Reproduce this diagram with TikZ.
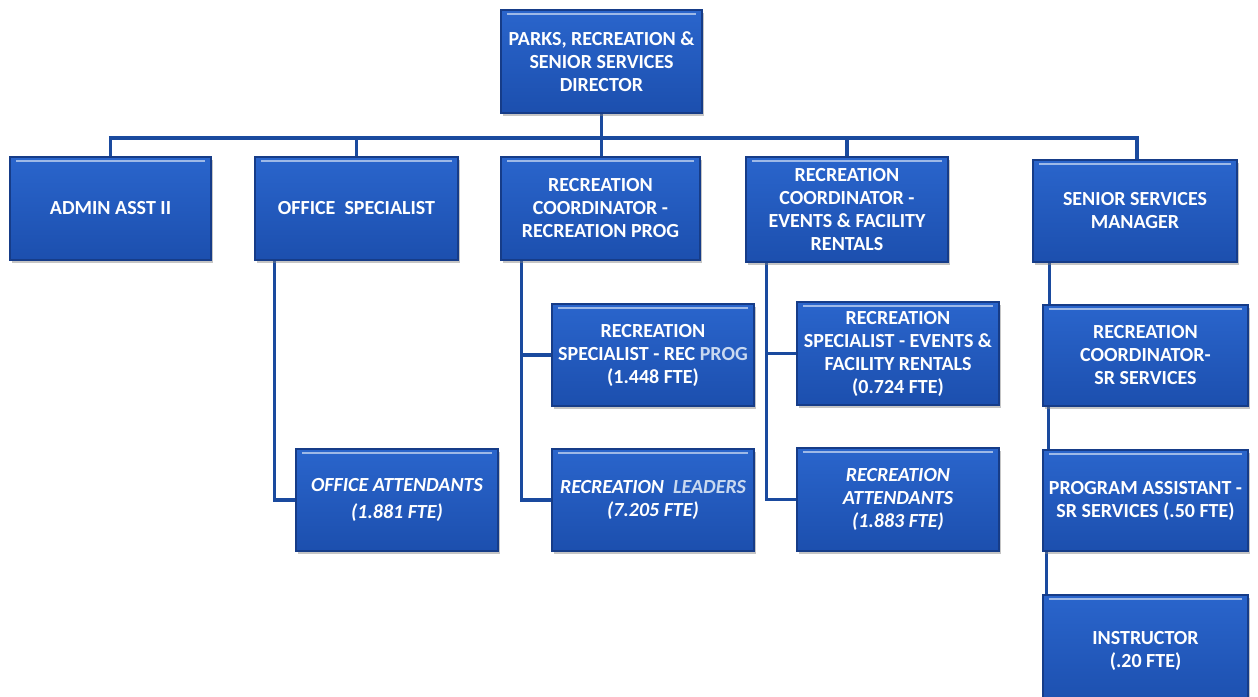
\documentclass[tikz,border=0pt]{standalone}
\usepackage{fontspec}
\setmainfont{Carlito}
\usetikzlibrary{shadows,backgrounds}
\definecolor{boxtop}{HTML}{2A65CC}
\definecolor{boxbot}{HTML}{1C4FAE}
\definecolor{boxedge}{HTML}{163C88}
\definecolor{linecol}{HTML}{1A4A9E}
\definecolor{hilite}{HTML}{C9D9F0}
\tikzset{
  orgbox/.style={rectangle, draw=boxedge, line width=1.5pt, top color=boxtop, bottom color=boxbot,
    text=white, font=\bfseries\fontsize{20}{23}\selectfont, align=center, inner sep=2pt,
    drop shadow={shadow xshift=1.5pt, shadow yshift=-2.5pt, fill=black!50, opacity=0.45},
    path picture={\draw[white, opacity=0.55, line width=1.3pt]
      ([xshift=6pt,yshift=-4pt]path picture bounding box.north west) --
      ([xshift=-6pt,yshift=-4pt]path picture bounding box.north east);}},
  conn/.style={draw=linecol, line width=3.5pt}
}
\begin{document}
\begin{tikzpicture}[x=1pt,y=-1pt]
\useasboundingbox (0,0) rectangle (1258,696);
\begin{scope}
\clip (0,0) rectangle (1258,696);
\node[orgbox, minimum width=201pt, minimum height=103pt] (dir) at (601.5,61.5) {PARKS, RECREATION \&\\SENIOR SERVICES\\DIRECTOR};
\node[orgbox, minimum width=201pt, minimum height=103pt] (admin) at (110.5,208.5) {ADMIN ASST II};
\node[orgbox, minimum width=203pt, minimum height=103pt] (office) at (356.5,208.5) {OFFICE\ \ SPECIALIST};
\node[orgbox, minimum width=199pt, minimum height=103pt] (rcp) at (600.5,208.5) {RECREATION\\COORDINATOR -\\RECREATION PROG};
\node[orgbox, minimum width=202pt, minimum height=105pt] (rce) at (847,209.5) {RECREATION\\COORDINATOR -\\EVENTS \& FACILITY\\RENTALS};
\node[orgbox, minimum width=204pt, minimum height=102pt] (ssm) at (1135,211) {SENIOR SERVICES\\MANAGER};
\node[orgbox, minimum width=202pt, minimum height=102pt] (rsp) at (653,355) {RECREATION\\SPECIALIST - REC \textcolor{hilite}{PROG}\\(1.448 FTE)};
\node[orgbox, minimum width=202pt, minimum height=103pt] (rse) at (898,353.5) {RECREATION\\SPECIALIST - EVENTS \&\\FACILITY RENTALS\\(0.724 FTE)};
\node[orgbox, minimum width=202pt, minimum height=102pt] (oa) at (397,500) {\itshape OFFICE ATTENDANTS\\[4pt]\itshape (1.881 FTE)};
\node[orgbox, minimum width=202pt, minimum height=102pt] (rl) at (653,500) {\itshape RECREATION\ \ \textcolor{hilite}{LEADERS}\\\itshape (7.205 FTE)};
\node[orgbox, minimum width=202pt, minimum height=103pt] (ra) at (898,499.5) {\itshape RECREATION\\\itshape ATTENDANTS\\\itshape (1.883 FTE)};
\node[orgbox, minimum width=205pt, minimum height=101pt] (rcs) at (1145.5,355.5) {RECREATION\\COORDINATOR-\\SR SERVICES};
\node[orgbox, minimum width=205pt, minimum height=101pt] (pa) at (1145.5,500.5) {PROGRAM ASSISTANT -\\SR SERVICES (.50 FTE)};
\node[orgbox, minimum width=205pt, minimum height=112pt] (ins) at (1145.5,651) {INSTRUCTOR\\(.20 FTE)};
\begin{scope}[on background layer]
\fill[white] (0,0) rectangle (1258,696);
\coordinate (busL) at (admin.north |- 0,138);
\coordinate (busR) at ([xshift=2pt]ssm.north |- 0,138);
\draw[conn] ([xshift=-1.75pt]busL) -- ([xshift=1.75pt]busR);
\draw[conn] (dir.south) -- (dir.south |- rcp.north);
\draw[conn] (admin.north) -- (busL);
\draw[conn] (office.north) -- (office.north |- busL);
\draw[conn] (rce.north) -- (rce.north |- busL);
\draw[conn] ([xshift=2pt]ssm.north) -- (busR);
% office specialist branch
\draw[conn] ([xshift=-21pt]office.south -| oa.west) -- ([xshift=-21pt]oa.west) -- (oa.west);
% rec prog branch
\draw[conn] ([xshift=21pt]rcp.south west) -- ([xshift=21pt]rcp.south west |- rl.west) -- (rl.west);
\draw[conn] ([xshift=21pt]rcp.south west |- rsp.west) -- (rsp.west);
% events branch
\draw[conn] ([xshift=21pt]rce.south west) -- ([xshift=21pt]rce.south west |- ra.west) -- (ra.west);
\draw[conn] ([xshift=21pt]rce.south west |- rse.west) -- (rse.west);
% senior services chain
\draw[conn] ([xshift=17pt]ssm.south west) -- ([xshift=17pt]ssm.south west |- rcs.north);
\draw[conn] ([xshift=6pt]rcs.south west) -- ([xshift=6pt]rcs.south west |- pa.north);
\draw[conn] ([xshift=4pt]pa.south west) -- ([xshift=4pt]pa.south west |- ins.north);
\end{scope}
\end{scope}
\end{tikzpicture}
\end{document}
